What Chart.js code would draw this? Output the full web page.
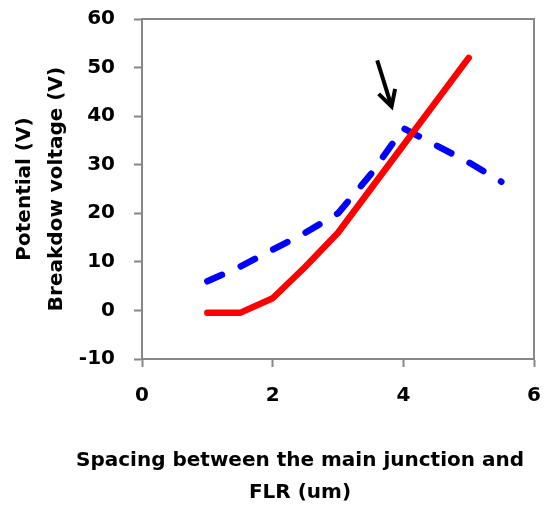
<!DOCTYPE html>
<html>
<head>
<meta charset="utf-8">
<script src="https://cdn.jsdelivr.net/npm/chart.js@4.4.0/dist/chart.umd.min.js"></script>
<style>
  html, body { margin: 0; padding: 0; background: #fff; }
  #wrap { width: 548px; height: 509px; }
</style>
</head>
<body>
<div id="wrap"><canvas id="chart" width="548" height="509"></canvas></div>
<script>
// spacing (um) vs potential / breakdown voltage (V)
var spacingRed = [1, 1.5, 2, 2.5, 3, 3.5, 4, 4.5, 5];
var potential = [-0.5, -0.5, 2.5, 9, 16, 25, 34, 43, 52];
var spacingBlue = [1, 1.5, 2, 2.5, 3, 3.5, 4, 4.5, 5, 5.5];
var breakdown = [6, 9, 12.5, 16, 20, 28, 37.5, 34, 30.5, 26.5];
var xTicks = [0, 2, 4, 6];
var yTicks = [-10, 0, 10, 20, 30, 40, 50, 60];
var yTitle = ['Potential (V)', 'Breakdow voltage (V)'];
var xTitle = ['Spacing between the main junction and', 'FLR (um)'];
var arrowTail = { x: 3.6, y: 51.5 };
var arrowTip = { x: 3.82, y: 42 };

var axisGray = '#878787';
var family = "'DejaVu Sans', sans-serif";
var boldFont = { family: family, size: 20, weight: 'bold' };

function pairs(xs, ys) {
  return xs.map(function(x, i) { return { x: x, y: ys[i] }; });
}

// grey box along the top and right of the plot
var frame = {
  id: 'frame',
  beforeDatasetsDraw: function(chart) {
    var a = chart.chartArea, ctx = chart.ctx;
    ctx.save();
    ctx.strokeStyle = axisGray;
    ctx.lineWidth = 2;
    ctx.beginPath();
    ctx.moveTo(a.left, a.top);
    ctx.lineTo(a.right, a.top);
    ctx.lineTo(a.right, a.bottom);
    ctx.stroke();
    ctx.restore();
  }
};

// black arrow pointing at the crossing
var arrow = {
  id: 'arrow',
  afterDatasetsDraw: function(chart) {
    var x = chart.scales.x, y = chart.scales.y, ctx = chart.ctx;
    var x0 = x.getPixelForValue(arrowTail.x), y0 = y.getPixelForValue(arrowTail.y);
    var x1 = x.getPixelForValue(arrowTip.x), y1 = y.getPixelForValue(arrowTip.y);
    var ang = Math.atan2(y0 - y1, x0 - x1), head = 18, spread = 0.5;
    ctx.save();
    ctx.strokeStyle = '#000';
    ctx.lineWidth = 4;
    ctx.beginPath();
    ctx.moveTo(x0, y0);
    ctx.lineTo(x1, y1);
    ctx.stroke();
    ctx.beginPath();
    ctx.moveTo(x1 + head * Math.cos(ang + spread), y1 + head * Math.sin(ang + spread));
    ctx.lineTo(x1, y1);
    ctx.lineTo(x1 + head * Math.cos(ang - spread), y1 + head * Math.sin(ang - spread));
    ctx.stroke();
    ctx.restore();
  }
};

// two-line x axis caption under the tick labels
var xCaption = {
  id: 'xCaption',
  afterDraw: function(chart) {
    var a = chart.chartArea, ctx = chart.ctx;
    var cx = (a.left + a.right) / 2 - 38;
    ctx.save();
    ctx.fillStyle = '#000';
    ctx.font = 'bold 20px ' + family;
    ctx.textAlign = 'center';
    ctx.textBaseline = 'middle';
    xTitle.forEach(function(line, i) {
      ctx.fillText(line, cx, a.bottom + 102 + i * 32);
    });
    ctx.restore();
  }
};

new Chart(document.getElementById('chart'), {
  type: 'line',
  data: {
    datasets: [
      {
        label: 'Potential',
        data: pairs(spacingRed, potential),
        borderColor: '#ff0000',
        borderWidth: 6.5,
        borderCapStyle: 'round',
        borderJoinStyle: 'round',
        pointRadius: 0,
        tension: 0
      },
      {
        label: 'Breakdown voltage',
        data: pairs(spacingBlue, breakdown),
        borderColor: '#0000ff',
        borderWidth: 6.5,
        borderDash: [16, 20.6],
        borderCapStyle: 'round',
        borderJoinStyle: 'round',
        pointRadius: 0,
        tension: 0
      }
    ]
  },
  options: {
    responsive: false,
    animation: false,
    layout: { padding: { left: 0, right: 14, top: 19, bottom: 0 } },
    plugins: { legend: { display: false }, tooltip: { enabled: false } },
    scales: {
      x: {
        type: 'linear',
        min: xTicks[0],
        max: xTicks[xTicks.length - 1],
        afterBuildTicks: function(s) { s.ticks = xTicks.map(function(v) { return { value: v }; }); },
        afterFit: function(s) { s.height = 150; s.paddingLeft = 0; s.paddingRight = 0; },
        grid: { drawOnChartArea: false, tickLength: 8, tickWidth: 2, tickColor: axisGray },
        border: { color: axisGray, width: 2 },
        ticks: { color: '#000', font: boldFont, padding: 17, maxRotation: 0 }
      },
      y: {
        min: yTicks[0],
        max: yTicks[yTicks.length - 1],
        afterBuildTicks: function(s) { s.ticks = yTicks.map(function(v) { return { value: v }; }); },
        afterFit: function(s) { s.width = 142; s.paddingTop = 0; s.paddingBottom = 0; },
        grid: { drawOnChartArea: false, tickLength: 8, tickWidth: 2, tickColor: axisGray },
        border: { color: axisGray, width: 2 },
        ticks: { color: '#000', font: boldFont, padding: 19 },
        title: {
          display: true,
          text: yTitle,
          color: '#000',
          font: { family: family, size: 20, weight: 'bold', lineHeight: 1.6 },
          padding: { top: 9, bottom: 0 }
        }
      }
    }
  },
  plugins: [frame, arrow, xCaption]
});
</script>
</body>
</html>
